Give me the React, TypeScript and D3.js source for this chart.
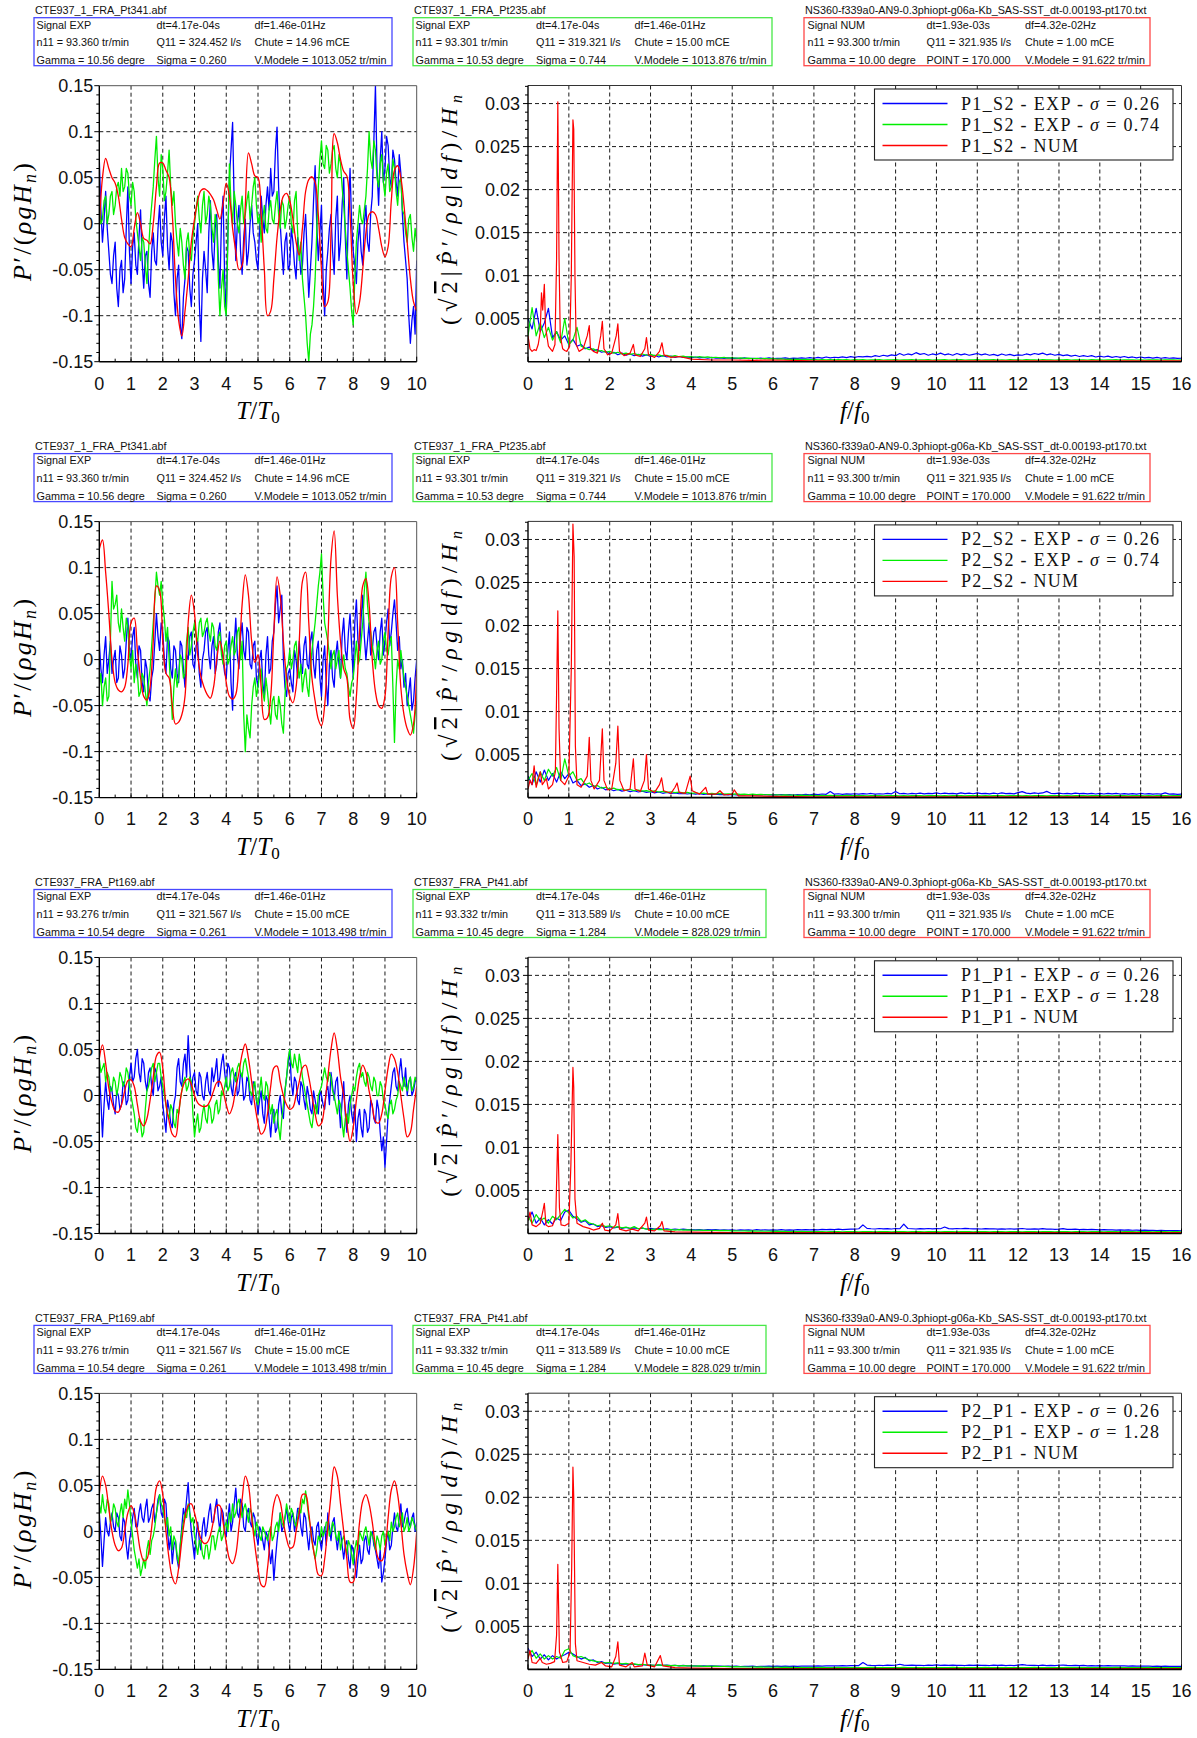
import React from "react";
import * as d3 from "d3";

// ---------- header boxes (text only) ----------
const expA12 = {
  file: "CTE937_1_FRA_Pt341.abf",
  lines: [
    ["Signal EXP", "dt=4.17e-04s", "df=1.46e-01Hz"],
    ["n11 = 93.360 tr/min", "Q11 = 324.452 l/s", "Chute = 14.96 mCE"],
    ["Gamma = 10.56 degre", "Sigma = 0.260", "V.Modele = 1013.052 tr/min"],
  ],
};
const expB12 = {
  file: "CTE937_1_FRA_Pt235.abf",
  lines: [
    ["Signal EXP", "dt=4.17e-04s", "df=1.46e-01Hz"],
    ["n11 = 93.301 tr/min", "Q11 = 319.321 l/s", "Chute = 15.00 mCE"],
    ["Gamma = 10.53 degre", "Sigma = 0.744", "V.Modele = 1013.876 tr/min"],
  ],
};
const expA34 = {
  file: "CTE937_FRA_Pt169.abf",
  lines: [
    ["Signal EXP", "dt=4.17e-04s", "df=1.46e-01Hz"],
    ["n11 = 93.276 tr/min", "Q11 = 321.567 l/s", "Chute = 15.00 mCE"],
    ["Gamma = 10.54 degre", "Sigma = 0.261", "V.Modele = 1013.498 tr/min"],
  ],
};
const expB34 = {
  file: "CTE937_FRA_Pt41.abf",
  lines: [
    ["Signal EXP", "dt=4.17e-04s", "df=1.46e-01Hz"],
    ["n11 = 93.332 tr/min", "Q11 = 313.589 l/s", "Chute = 10.00 mCE"],
    ["Gamma = 10.45 degre", "Sigma = 1.284", "V.Modele = 828.029 tr/min"],
  ],
};
const numBox = {
  file: "NS360-f339a0-AN9-0.3phiopt-g06a-Kb_SAS-SST_dt-0.00193-pt170.txt",
  lines: [
    ["Signal NUM", "dt=1.93e-03s", "df=4.32e-02Hz"],
    ["n11 = 93.300 tr/min", "Q11 = 321.935 l/s", "Chute = 1.00 mCE"],
    ["Gamma = 10.00 degre", "POINT = 170.000", "V.Modele = 91.622 tr/min"],
  ],
};

// legend entries
const legendProbe = ["P1_S2", "P2_S2", "P1_P1", "P2_P1"];
const legendSigmaA = ["0.26", "0.26", "0.26", "0.26"];
const legendSigmaB = ["0.74", "0.74", "1.28", "1.28"];

// ---------- time signals, P'/(rho g Hn) in thousandths, evenly spread over T/T0 = 0..10 ----------
// EXP signals: every 0.05 T/T0
const tsBlue1 = [70,15,-20,5,35,-5,-30,-55,-65,-35,-20,-70,-90,-50,-40,-75,-60,-5,40,-30, -65,-25,-10,-45,-55,-15,15,-40,-70,-35,-30,-65,-80,-30,-10,-40,-45,-5,20,-20, -35,5,30,-25,-50,-10,-20,-75,-100,-60,-45,-110,-125,-80,-60,-25,-30,-70,-90,-55, -40,-20,0,-85,-128,-60,-30,-50,-75,-10,25,-30,-50,-5,10,-40,-70,5,30,-60, -100,-10,50,80,110,20,-40,0,20,-30,-55,-15,5,-45,-30,0,20,-10,-20,-40, -50,-5,30,5,-10,20,40,15,60,30,35,80,105,40,0,-30,-55,-20,-10,-50, -45,-5,-20,-45,-60,-15,-30,-55,-45,-10,10,-35,-80,-50,-20,25,63,0,-40,-10, 20,-60,-100,-50,-30,-5,10,-30,-55,5,30,-40,-20,20,50,-15,-60,15,60,0, -30,-45,-65,-20,0,-30,-45,0,20,-20,-30,10,30,90,150,60,20,70,100,45, 60,95,85,50,40,80,70,45,30,75,55,10,-20,-40,-60,-100,-130,-105,-90,-120, -40];
const tsGreen1 = [20,0,5,25,30,0,10,30,35,10,20,40,45,30,60,35,40,60,55,30, 20,45,35,5,-10,-25,-40,-15,-20,-45,-65,-30,0,20,40,70,95,50,30,75, 60,25,35,55,80,40,20,35,0,-20,-35,-5,-20,-45,-60,-20,-10,-35,-40,-15, 0,15,30,5,-10,20,35,0,10,30,20,-5,-20,10,0,-60,-100,-70,-50,-90, -100,-20,65,20,0,35,20,0,-10,15,30,0,10,25,35,5,20,40,50,20, 0,10,-20,5,20,-5,-10,15,25,5,0,20,35,10,-5,25,20,-5,5,20, 30,0,-10,25,35,-10,-40,-20,-60,-80,-100,-130,-150,-120,-110,-90,-60,-10,40,70, 90,65,60,85,80,55,65,80,85,60,50,75,65,40,20,-5,-30,-50,-70,-95, -110,-60,-20,0,20,5,0,15,30,60,100,70,60,90,80,50,40,65,75,45, 30,55,65,35,40,70,60,35,20,45,50,15,10,-10,-20,5,10,-15,-30,-5, -20];
const tsBlue2 = [20,-10,-25,5,25,-15,0,20,-15,0,10,-25,-20,15,5,-20,-10,20,45,10, 0,25,35,-5,-20,15,10,-25,-35,0,-10,-40,-45,-20,-10,20,50,25,10,40, 30,0,-15,25,20,-10,-20,15,10,-15,-25,20,15,-10,-30,5,0,25,30,-5, -10,15,20,-15,-30,0,10,30,35,5,-10,15,25,-15,-5,30,40,10,0,-15, -20,10,30,-25,-55,15,45,5,-10,25,40,10,0,35,30,-5,-10,15,20,-20, -30,0,10,-25,-40,5,25,-15,-10,20,30,60,80,40,55,70,0,-30,-40,-15, -10,-25,-35,10,0,-20,20,-5,-15,15,25,-5,-10,20,30,-5,-20,10,20,-20, -40,0,15,-25,-50,-5,10,-20,-30,5,20,-5,-20,25,45,10,0,30,50,15, -20,40,65,20,10,45,70,25,0,20,40,5,10,30,35,15,0,30,45,5, 20,40,55,15,30,50,65,40,10,25,-10,0,-30,-15,-50,-35,-20,-55,-45,-20, 0];
const tsGreen2 = [-30,-15,-50,-30,-20,-45,-40,20,85,55,60,70,40,30,55,35,20,45,35,5, -10,10,-25,-5,-15,-40,-35,-15,-20,-35,-50,-25,-10,15,40,65,95,80,70,85, 60,45,20,35,0,-30,-65,-30,-10,-30,-20,5,0,-20,-15,20,35,5,15,30, 40,25,20,40,45,25,30,40,45,30,20,40,35,15,10,25,30,5,-5,15, 20,-5,0,15,25,5,10,30,35,0,20,-60,-100,-60,-75,-85,-50,-30,-20,-40, -30,-15,-10,-35,-45,-20,-35,-55,-70,-45,-40,-60,-65,-40,-50,-70,-80,-40,-10,-5, 10,-10,0,15,20,-5,-20,-5,-35,-20,-10,-30,-40,-10,10,25,40,60,80,95, 115,70,40,30,20,5,-10,5,10,-10,0,10,-20,-5,5,-10,-15,-30,-40,-25, -20,0,20,-5,0,20,40,75,95,60,40,30,15,5,-10,10,20,-5,0,20, 30,10,5,20,25,-30,-90,-30,0,-10,10,-5,-20,-30,-40,-50,-60,-70,-80,-60, -45];
const tsBlue3 = [30,-5,-45,-10,15,-5,-15,10,5,-10,-20,5,0,-15,-10,15,10,-10,-5,20, 35,15,20,40,50,25,15,40,35,15,5,25,30,10,0,30,25,5,10,20, -10,-25,-40,-5,-15,-30,-35,-10,0,30,40,15,10,35,45,20,65,30,5,20, 25,5,0,25,20,0,-5,15,25,5,0,30,15,25,40,10,20,35,45,25, 10,35,30,10,0,20,25,0,5,25,20,-5,0,20,15,-5,-10,15,10,-5, -20,-5,5,-20,-30,0,-5,-25,-45,-20,-15,-40,-35,-10,0,-20,-25,5,20,35, 50,15,0,20,15,-5,-10,15,10,-5,-15,10,0,-15,-20,5,-5,-15,-20,5, 0,-10,-15,5,10,-10,25,10,-5,15,20,-10,-35,-5,15,-20,-40,-10,0,-20, -30,-10,-50,-25,-15,-35,-45,-15,-20,-40,-35,-5,-10,-25,-30,-5,-15,-40,-60,-45, -78,-50,-20,-5,10,25,30,10,5,25,40,20,10,30,0,15,20,0,5,15, 20];
const tsGreen3 = [40,25,30,35,15,25,20,5,5,20,15,0,10,25,20,10,15,30,25,10, 0,-10,-20,-35,-40,-25,-30,-45,-40,-15,5,10,20,30,35,15,25,35,35,20, 10,0,-10,-20,-25,-10,-15,-30,-35,-15,-20,-5,5,15,20,5,10,20,15,-20, -45,-30,-20,-40,-35,-20,-10,-25,-30,-10,-15,-30,-25,-10,-5,-20,-15,5,0,10, 20,5,10,25,30,20,15,30,35,25,20,35,40,30,20,5,0,10,15,-5, -10,5,20,0,-5,15,10,-10,-20,-10,-30,-20,-15,-35,-48,-25,-10,5,20,40, 50,35,30,45,35,25,45,35,20,10,0,-10,-20,-30,-35,-20,-10,-20,0,5, 10,20,30,20,15,25,20,5,0,-10,-20,-5,-10,-30,-45,-25,-20,-30,-10,0, 10,5,20,30,35,20,25,15,10,25,20,10,5,20,15,0,0,15,10,-5, -10,-20,-25,-10,-5,-20,-15,-5,0,15,10,5,20,10,5,15,20,5,10,20, 15];
const tsBlue4 = [20,-5,-38,-10,15,0,-5,10,20,5,0,20,15,-5,-10,15,10,-15,-30,-10, 0,15,25,5,5,20,30,15,10,25,35,10,15,25,30,10,20,35,40,20, 15,35,30,0,-20,-5,-35,-15,-10,-30,-40,-15,5,25,15,35,53,20,0,-15, -30,-5,10,-10,-20,5,15,-5,5,20,30,10,10,25,35,15,0,25,20,0, -5,15,30,0,10,30,47,20,15,35,30,5,0,20,25,10,5,20,15,-5, -15,5,0,-10,-20,0,-5,-20,-35,-20,-53,-30,-10,5,20,0,5,15,25,10, 0,15,20,0,10,25,25,5,-5,20,15,-5,-20,0,5,-10,-15,5,10,-10, -20,-5,5,-15,20,5,-10,10,15,-5,-20,-5,0,-15,-30,-15,-10,-30,-40,-15, -20,-35,-50,-30,-15,-35,-30,-10,-5,-20,-25,-5,0,-15,-20,-30,-40,-20,-55,-45, -30,-10,0,-20,-15,5,20,5,0,15,30,5,10,20,25,10,5,15,20,0, 10];
const tsGreen4 = [30,20,40,25,20,35,30,10,15,30,25,10,5,20,30,15,35,25,45,30, 10,-5,-20,-30,-40,-30,-48,-40,-30,-40,-20,-10,-25,-10,-5,5,20,30,40,30, 25,15,5,15,-5,5,-20,-5,-10,-25,-35,-15,0,10,20,15,30,20,10,15, -5,-15,-25,-10,-10,-25,-30,-15,-15,-30,-20,-5,-5,-20,-10,0,5,-10,-5,5, 10,0,20,10,30,15,20,30,35,25,15,25,30,20,10,25,20,5,-5,10, 5,-5,-10,5,0,-5,-10,0,5,-10,-5,5,10,0,20,10,5,15,30,20, 10,25,20,10,5,15,25,20,35,30,44,30,15,5,-10,-20,-30,-20,-5,-10, 5,-5,0,10,10,-5,0,10,5,-5,-10,0,-20,-10,-5,-15,-25,-10,-15,-25, -35,-20,-10,-20,0,-5,-10,0,5,-5,-15,0,-5,-10,-20,-5,-10,-20,-5,0, -15,-5,0,-10,10,0,5,15,20,5,10,20,0,5,15,0,5,15,10,5, 0];

// NUM signals: every 0.1 T/T0
const tsRed1 = [-4,50,71,60,50,44,30,5,-15,-22, -25,-5,12,0,-16,-18,-22,0,40,66, 66,58,50,10,-60,-105,-122,-95,-60,-20, 5,25,36,38,36,32,26,15,5,22, 44,30,-5,-30,-50,-45,20,77,65,52, 50,10,-50,-100,-95,-60,-15,15,30,33, 25,5,-20,-34,-5,35,48,51,45,10, -50,-90,-85,-10,98,88,70,57,52,10, -65,-98,-85,-50,-10,10,13,10,-5,-25, -36,-25,25,58,63,50,20,-20,-60,-85, -95];
const tsRed2 = [120,130,95,50,0,-25,-33,-35,-30,-5, 40,45,10,-20,-40,-44,-30,20,80,75, 20,-15,-20,-50,-70,-68,-60,-40,40,70, 50,5,-18,-30,-38,-42,-30,0,20,5, -25,-40,-43,-38,0,60,92,70,20,-3, 5,-30,-65,-63,-40,30,90,70,20,-20, -40,-47,-30,20,85,95,40,-20,-45,-65, -72,-50,20,110,140,70,20,-10,-20,-65, -75,-40,30,80,88,60,0,-35,-50,-53, -40,30,90,100,40,-30,-60,-75,-82,-70, -10];
const tsRed3 = [40,55,35,8,-8,-17,-18,-10,5,16, 17,10,-10,-28,-33,-25,-5,20,43,47, 30,-10,-28,-42,-45,-20,5,15,18,12, 0,-8,-11,-12,-11,-5,5,14,15,5, -10,-20,-12,8,25,45,56,40,15,-10, -30,-42,-38,-20,10,30,32,15,0,-10, -15,-13,0,15,30,33,20,0,-20,-33, -30,-10,20,50,68,50,20,0,-30,-50, -35,-5,20,33,25,5,-12,-28,-30,-20, 5,30,45,40,25,0,-25,-45,-40,-15, 10];
const tsRed4 = [40,60,50,25,0,-15,-21,-18,0,20, 28,20,0,-22,-32,-30,-10,20,48,55, 40,0,-30,-50,-57,-40,-10,15,28,30, 20,5,-8,-13,-12,-4,12,28,28,10, -12,-30,-35,-25,5,35,60,50,15,-15, -40,-58,-60,-40,0,30,40,32,10,-8, -18,-17,0,20,40,40,20,-10,-30,-47, -48,-30,5,40,70,60,30,0,-30,-55, -55,-30,10,33,40,30,10,-15,-30,-32, -20,15,45,55,40,10,-25,-45,-58,-40, 0];

// ---------- spectra, amplitude in 1e-5, every 0.1 f/f0 (EXP) ----------
const spec1Blue = [500,380,620,350,450,620,280,350,250,300, 200,260,180,200,150,170,130,140,110,120, 90,110,80,100,75,90,70,85,65,80, 60,75,55,70,55,65,50,60,50,55, 45,55,45,50,40,50,40,45,38,45, 38,42,35,45,35,40,35,42,35,45, 35,40,38,45,35,42,38,45,40,48, 40,50,42,55,45,52,48,55,48,58, 50,60,55,62,55,70,60,75,65,80, 70,95,75,90,80,105,85,95,75,90, 80,100,80,90,75,95,80,90,75,85, 95,80,90,75,85,70,90,75,85,70, 80,75,90,80,95,85,100,80,90,75, 85,70,80,65,75,60,70,60,70,55, 65,55,65,50,60,50,60,48,55,45, 55,45,50,42,50,40,48,40,45,38, 40];
const spec1Green = [300,630,300,450,280,400,250,350,220,500, 200,250,400,180,160,140,150,120,130,110, 120,100,110,90,100,85,95,80,90,75, 85,70,80,65,75,60,70,58,65,55, 60,52,58,50,55,48,52,45,50,42, 48,40,45,38,42,36,40,34,38,32, 35,30,33,28,30,27,29,25,27,24, 26,22,25,21,24,22,25,21,23,20, 23,21,24,20,22,21,23,20,22,21, 23,20,22,21,24,20,22,21,23,20, 22,21,23,20,22,21,24,20,22,21, 23,20,22,21,23,20,22,20,23,21, 22,20,23,21,22,20,23,21,22,20, 22,21,23,20,22,21,22,20,23,21, 22,20,22,21,23,20,22,21,22,20, 22,20,22,21,22,20,22,21,22,20, 21];
const spec2Blue = [250,150,300,180,320,200,280,180,300,220, 280,170,200,140,160,120,140,100,120,90, 100,80,95,75,85,70,80,65,75,60, 70,55,65,50,60,48,55,45,50,42, 48,40,45,38,42,36,40,34,38,32, 36,30,35,32,36,30,34,31,36,30, 35,32,36,31,35,30,36,32,38,33, 40,35,42,38,70,40,45,38,44,40, 45,40,46,42,48,40,45,42,50,44, 70,45,48,42,50,45,52,44,50,46, 55,45,52,46,50,44,55,46,52,45, 54,46,50,44,52,45,55,46,50,44, 58,70,52,46,55,48,54,72,50,46, 52,45,50,44,52,46,50,43,48,42, 48,42,50,44,48,42,47,41,46,40, 48,42,46,40,45,40,55,40,44,38, 40];
const spec2Green = [200,280,150,300,200,330,250,350,200,450, 250,300,200,220,150,170,130,140,110,120, 100,110,90,100,85,95,80,88,75,82, 70,78,65,72,60,68,58,64,55,60, 50,56,48,52,45,50,43,48,42,45, 40,43,38,41,36,40,34,38,33,36, 30,33,29,31,28,30,27,28,26,27, 25,24,26,23,25,22,24,23,25,22, 24,22,23,21,24,22,23,21,24,22, 23,21,22,21,23,22,24,21,23,22, 23,21,22,21,23,22,24,21,23,22, 23,21,22,21,23,22,24,21,23,22, 23,21,22,21,23,22,24,21,23,22, 23,21,22,21,23,22,24,21,23,22, 23,21,22,21,23,22,24,21,23,22, 23,21,22,21,23,22,24,21,23,22, 22];
const spec3Blue = [150,250,120,180,100,160,110,180,150,250, 270,200,170,130,150,100,110,80,90,70, 80,65,75,60,70,58,66,55,62,52, 60,50,56,48,54,46,52,45,50,44, 45,42,46,40,44,41,45,40,43,40, 42,38,43,39,42,38,44,40,42,39, 42,40,44,39,43,40,45,41,44,42, 46,43,47,44,48,45,50,46,48,50, 52,55,100,60,55,52,58,54,56,52, 58,55,110,58,55,52,56,53,58,54, 56,55,75,57,54,58,55,60,56,54, 55,52,56,53,55,51,54,52,55,50, 54,58,52,50,53,51,56,50,52,49, 50,56,48,47,50,46,48,45,47,44, 42,45,41,43,40,42,39,41,38,40, 37,39,36,38,35,37,34,35,33,34, 30];
const spec3Green = [200,120,220,150,180,120,200,160,220,280, 240,180,200,140,160,120,110,90,100,80, 90,70,80,65,75,60,80,55,65,50, 45,52,44,48,42,46,40,44,40,42, 40,38,40,36,38,35,37,34,36,33, 30,32,29,31,28,30,27,29,26,28, 25,27,24,26,23,25,22,24,22,23, 22,21,23,20,22,21,23,20,22,21, 22,20,22,21,23,20,22,21,22,20, 22,21,23,20,22,21,22,20,22,21, 22,20,22,21,23,20,22,21,22,20, 22,21,23,20,22,21,22,20,22,21, 22,20,22,21,23,20,22,21,22,20, 22,21,23,20,22,21,22,20,22,21, 22,20,22,21,23,20,22,21,22,20, 22,21,23,20,22,21,22,20,22,21, 20];
const spec4Blue = [250,150,200,120,170,110,160,120,150,170, 200,180,150,120,140,100,110,80,90,70, 75,62,70,58,65,55,60,52,56,50, 50,48,52,46,50,44,48,42,46,41, 40,42,39,41,38,40,37,39,36,38, 35,37,34,36,35,37,34,36,35,38, 35,37,36,38,35,37,36,39,37,38, 38,40,39,41,40,42,41,43,42,44, 43,45,80,50,46,44,48,45,50,46, 48,60,50,47,49,46,48,45,50,46, 52,47,49,46,50,47,48,45,50,46, 49,46,48,45,50,46,49,45,48,44, 50,55,49,46,48,45,50,44,47,45, 48,50,46,44,47,43,46,42,45,42, 44,41,43,40,42,40,41,39,40,38, 39,37,38,36,38,36,37,35,36,35, 35];
const spec4Green = [150,220,130,180,120,160,120,150,130,220, 240,160,140,150,130,110,100,90,80,75, 80,70,75,65,70,60,65,56,60,52, 50,48,52,46,48,44,46,42,44,41, 40,38,40,36,38,35,37,34,36,33, 30,32,29,31,28,30,27,29,26,28, 25,27,24,26,23,25,22,24,22,23, 22,21,23,20,22,21,23,20,22,21, 22,20,22,21,23,20,22,21,22,20, 22,21,23,20,22,21,22,20,22,21, 22,20,22,21,23,20,22,21,22,20, 22,21,23,20,22,21,22,20,22,21, 22,20,22,21,23,20,22,21,22,20, 22,21,23,20,22,21,22,20,22,21, 22,20,22,21,23,20,22,21,22,20, 22,21,23,20,22,21,22,20,22,21, 20];

// NUM spectra: [f/f0, amplitude in 1e-5]
const specRed1: [number, number][] = [[0,300],[0.05,150],[0.1,120],[0.15,140],[0.2,130],[0.25,200],[0.3,350],[0.33,800],[0.36,600],[0.4,900],[0.43,400],[0.5,180],[0.55,150],[0.6,120],[0.66,200],[0.7,1200],[0.73,3020],[0.76,1200],[0.79,300],[0.85,150],[0.9,130],[0.95,120],[1.02,180],[1.06,1000],[1.1,2810],[1.12,2700],[1.15,1000],[1.18,200],[1.25,120],[1.35,150],[1.45,300],[1.5,420],[1.53,150],[1.6,120],[1.7,100],[1.78,300],[1.82,470],[1.86,150],[1.95,80],[2.05,100],[2.16,300],[2.2,440],[2.24,120],[2.35,70],[2.5,100],[2.58,200],[2.62,80],[2.75,60],[2.86,150],[2.9,280],[2.95,80],[3.1,50],[3.22,120],[3.28,220],[3.33,80],[3.5,50],[3.7,60],[4,30],[4.5,20],[5,20],[5.5,15],[6,20],[7,10],[8,10],[10,10],[16,10]];
const specRed2: [number, number][] = [[0,100],[0.05,200],[0.1,150],[0.15,370],[0.2,120],[0.3,300],[0.35,150],[0.45,220],[0.5,100],[0.6,150],[0.67,300],[0.7,1200],[0.73,2170],[0.76,800],[0.8,200],[0.9,150],[1.0,250],[1.06,1500],[1.1,3180],[1.13,2800],[1.16,600],[1.2,150],[1.3,120],[1.45,250],[1.5,700],[1.54,200],[1.62,100],[1.75,200],[1.82,800],[1.86,200],[1.95,90],[2.05,100],[2.15,400],[2.2,830],[2.25,200],[2.35,80],[2.5,100],[2.58,450],[2.62,100],[2.75,70],[2.85,200],[2.9,500],[2.95,100],[3.1,60],[3.22,150],[3.27,230],[3.32,80],[3.5,50],[3.6,120],[3.65,170],[3.7,60],[3.85,50],[3.97,250],[4.02,80],[4.2,40],[4.35,120],[4.4,40],[4.6,40],[4.7,80],[4.8,30],[5.0,40],[5.05,90],[5.15,20],[5.5,20],[6,15],[7,10],[8,10],[16,10]];
const specRed3: [number, number][] = [[0,150],[0.05,250],[0.1,100],[0.2,80],[0.3,120],[0.36,250],[0.4,350],[0.44,100],[0.5,80],[0.6,90],[0.68,200],[0.73,1150],[0.77,300],[0.81,100],[0.9,90],[1.0,120],[1.05,800],[1.1,1930],[1.12,1700],[1.15,400],[1.2,120],[1.35,80],[1.5,60],[1.6,40],[1.75,60],[1.82,120],[1.88,40],[2.0,30],[2.15,100],[2.2,230],[2.24,50],[2.4,30],[2.55,50],[2.7,30],[2.86,120],[2.9,190],[2.95,40],[3.1,30],[3.24,90],[3.28,140],[3.33,30],[3.6,20],[4,15],[5,10],[8,10],[16,10]];
const specRed4: [number, number][] = [[0,120],[0.05,220],[0.1,80],[0.2,70],[0.3,130],[0.35,80],[0.45,60],[0.55,70],[0.65,90],[0.7,400],[0.73,1220],[0.77,200],[0.85,80],[0.95,90],[1.03,200],[1.07,1200],[1.1,2350],[1.12,2000],[1.16,300],[1.2,100],[1.35,80],[1.5,60],[1.65,50],[1.8,80],[1.9,40],[2.05,30],[2.15,150],[2.2,320],[2.24,50],[2.4,30],[2.55,80],[2.6,30],[2.8,40],[2.86,190],[2.92,50],[3.1,30],[3.24,160],[3.3,40],[3.6,20],[4,15],[5,10],[16,10]];

const rows = [
  { boxes: [expA12, expB12, numBox], ts: [tsBlue1, tsGreen1, tsRed1], spec: [spec1Blue, spec1Green], red: specRed1 },
  { boxes: [expA12, expB12, numBox], ts: [tsBlue2, tsGreen2, tsRed2], spec: [spec2Blue, spec2Green], red: specRed2 },
  { boxes: [expA34, expB34, numBox], ts: [tsBlue3, tsGreen3, tsRed3], spec: [spec3Blue, spec3Green], red: specRed3 },
  { boxes: [expA34, expB34, numBox], ts: [tsBlue4, tsGreen4, tsRed4], spec: [spec4Blue, spec4Green], red: specRed4 },
];

// ---------- layout ----------
const W = 1197;
const H = 1738;
const ROW_H = 435.9;
const LP = { left: 99.3, right: 416.7, top: 85.7, bottom: 361.7 };
const RP = { left: 528, right: 1181.5, top: 85.5, bottom: 361.7 };
const BLUE = "#0000ff";
const GREEN = "#00ee00";
const RED = "#ff0000";
const SANS = "'Liberation Sans', Arial, sans-serif";
const SERIF = "'Liberation Serif', 'Times New Roman', serif";
const boxLayout = [
  { x: 34, cols: [36.5, 156.5, 254.5], color: "#4848ff" },
  { x: 413, cols: [415.5, 536, 634.5], color: "#48e848" },
  { x: 804, cols: [807.5, 926.5, 1025], color: "#ff4848" },
];

const fGrid = d3.range(161).map((i) => i / 10);

const xT = d3.scaleLinear().domain([0, 10]).range([LP.left, LP.right]);
const yP = d3.scaleLinear().domain([-0.15, 0.15]).range([LP.bottom, LP.top]);
const xF = d3.scaleLinear().domain([0, 16]).range([RP.left, RP.right]);
const yS = d3.scaleLinear().domain([0, 0.0321]).range([RP.bottom, RP.top]);

// samples are evenly spread over T/T0 = 0..10
const tsPath = (arr: number[], smooth = false) => {
  const n = arr.length - 1;
  const gen = d3
    .line<number>()
    .x((d, i) => xT((i * 10) / n))
    .y((d) => yP(d / 1000));
  if (smooth) gen.curve(d3.curveCatmullRom);
  return gen(arr) || "";
};
const specLine = d3.line<number>().x((d, i) => xF(fGrid[i])).y((d) => yS(d * 1e-5));
const numLine = d3
  .line<[number, number]>()
  .x((d) => xF(d[0]))
  .y((d) => yS(d[1] * 1e-5));

const fmt = (v: number) => String(+v.toFixed(4));

function InfoBox({ info, idx, right }: { info: typeof expA12; idx: number; right: number }) {
  const b = boxLayout[idx];
  return (
    <g fontFamily={SANS} fontSize={10.8} fill="#111">
      <text x={b.x + 1} y={14}>{info.file}</text>
      <rect x={b.x} y={17.7} width={right - b.x} height={48} fill="none" stroke={b.color} strokeWidth={1.3} />
      {info.lines.map((ln, r) =>
        ln.map((s, c) => (
          <text key={r + "-" + c} x={b.cols[c]} y={28.6 + r * 17.8}>
            {s}
          </text>
        ))
      )}
    </g>
  );
}

function Row({ r }: { r: number }) {
  const row = rows[r];
  const oy = r * ROW_H;
  const clipL = "clipL" + r;
  const clipR = "clipR" + r;
  const probe = legendProbe[r];
  const legY = [103.5, 124.5, 145.5];
  const legTexts = [
    ["EXP", legendSigmaA[r]],
    ["EXP", legendSigmaB[r]],
    ["NUM", ""],
  ];
  const legColors = [BLUE, GREEN, RED];
  return (
    <g transform={`translate(0,${oy})`}>
      <defs>
        <clipPath id={clipL}>
          <rect x={LP.left} y={LP.top} width={LP.right - LP.left} height={LP.bottom - LP.top} />
        </clipPath>
        <clipPath id={clipR}>
          <rect x={RP.left} y={RP.top} width={RP.right - RP.left} height={RP.bottom - RP.top} />
        </clipPath>
      </defs>

      {row.boxes.map((b, i) => (
        <InfoBox key={i} info={b} idx={i} right={i === 0 ? 392 : i === 1 ? (r < 2 ? 772 : 766) : 1150} />
      ))}

      {/* ---- left: time signals ---- */}
      {d3.range(1, 10).map((t) => (
        <line key={"gv" + t} x1={xT(t)} x2={xT(t)} y1={LP.top} y2={LP.bottom} stroke="#000" strokeWidth={0.9} strokeDasharray="4,3" />
      ))}
      {[-0.1, -0.05, 0, 0.05, 0.1].map((v) => (
        <line key={"gh" + v} x1={LP.left} x2={LP.right} y1={yP(v)} y2={yP(v)} stroke="#000" strokeWidth={0.9} strokeDasharray="4,3" />
      ))}
      <g clipPath={`url(#${clipL})`} fill="none" strokeWidth={1.3} strokeLinejoin="round">
        <path d={tsPath(row.ts[0])} stroke={BLUE} />
        <path d={tsPath(row.ts[1])} stroke={GREEN} />
        <path d={tsPath(row.ts[2], true)} stroke={RED} />
      </g>
      <line x1={LP.left} x2={LP.right} y1={LP.top} y2={LP.top} stroke="#555" />
      <line x1={LP.right} x2={LP.right} y1={LP.top} y2={LP.bottom} stroke="#555" />
      <line x1={LP.left} x2={LP.left} y1={LP.top} y2={LP.bottom} stroke="#000" strokeWidth={1.4} />
      <line x1={LP.left} x2={LP.right} y1={LP.bottom} y2={LP.bottom} stroke="#000" strokeWidth={1.4} />
      {d3.range(-15, 16).map((k) => (
        <line key={"ym" + k} x1={LP.left - (k % 5 === 0 ? 5 : 3)} x2={LP.left} y1={yP(k / 100)} y2={yP(k / 100)} stroke="#000" />
      ))}
      {d3.range(0, 21).map((k) => (
        <line key={"xm" + k} x1={xT(k / 2)} x2={xT(k / 2)} y1={LP.bottom} y2={LP.bottom - (k % 2 === 0 ? 5 : 3)} stroke="#000" />
      ))}
      <g fontFamily={SANS} fontSize={18} fill="#111">
        {yP.ticks(6).map((v) => (
          <text key={"yl" + v} x={LP.left - 6} y={yP(v)} dy="0.35em" textAnchor="end">
            {fmt(v)}
          </text>
        ))}
        {d3.range(0, 11).map((t) => (
          <text key={"xl" + t} x={xT(t)} y={389.5} textAnchor="middle">
            {t}
          </text>
        ))}
      </g>
      <text fontFamily={SERIF} fontSize={25} x={258} y={419} textAnchor="middle">
        <tspan fontStyle="italic">T</tspan>/<tspan fontStyle="italic">T</tspan>
        <tspan fontSize={17} dy={4}>0</tspan>
      </text>
      <text fontFamily={SERIF} fontSize={26} transform={`translate(31,222) rotate(-90)`} textAnchor="middle" textLength={118} lengthAdjust="spacing">
        <tspan fontStyle="italic">P</tspan>′/(<tspan fontStyle="italic">ρgH</tspan>
        <tspan fontStyle="italic" fontSize={18} dy={5}>n</tspan>
        <tspan dy={-5}>)</tspan>
      </text>

      {/* ---- right: spectra ---- */}
      {d3.range(1, 16).map((f) => (
        <line key={"sv" + f} x1={xF(f)} x2={xF(f)} y1={RP.top} y2={RP.bottom} stroke="#000" strokeWidth={0.9} strokeDasharray="4,3" />
      ))}
      {[0.005, 0.01, 0.015, 0.02, 0.025, 0.03].map((v) => (
        <line key={"sh" + v} x1={RP.left} x2={RP.right} y1={yS(v)} y2={yS(v)} stroke="#000" strokeWidth={0.9} strokeDasharray="4,3" />
      ))}
      <g clipPath={`url(#${clipR})`} fill="none" strokeWidth={1.2} strokeLinejoin="round">
        <path d={specLine(row.spec[0]) || ""} stroke={BLUE} />
        <path d={specLine(row.spec[1]) || ""} stroke={GREEN} />
        <path d={numLine(row.red) || ""} stroke={RED} />
      </g>
      <line x1={RP.left} x2={RP.right} y1={RP.top} y2={RP.top} stroke="#333" />
      <line x1={RP.right} x2={RP.right} y1={RP.top} y2={RP.bottom} stroke="#333" />
      <line x1={RP.left} x2={RP.left} y1={RP.top} y2={RP.bottom} stroke="#000" strokeWidth={1.4} />
      <line x1={RP.left} x2={RP.right} y1={RP.bottom} y2={RP.bottom} stroke="#000" strokeWidth={1.6} />
      {d3.range(1, 33).map((k) => (
        <line key={"sym" + k} x1={RP.left - (k % 5 === 0 ? 5 : 3)} x2={RP.left} y1={yS(k / 1000)} y2={yS(k / 1000)} stroke="#000" />
      ))}
      {d3.range(0, 33).map((k) => (
        <line key={"sxm" + k} x1={xF(k / 2)} x2={xF(k / 2)} y1={RP.bottom} y2={RP.bottom - (k % 2 === 0 ? 5 : 3)} stroke="#000" />
      ))}
      <g fontFamily={SANS} fontSize={18} fill="#111">
        {[0.005, 0.01, 0.015, 0.02, 0.025, 0.03].map((v) => (
          <text key={"syl" + v} x={RP.left - 8} y={yS(v)} dy="0.35em" textAnchor="end">
            {fmt(v)}
          </text>
        ))}
        {d3.range(0, 17).map((f) => (
          <text key={"sxl" + f} x={xF(f)} y={389.5} textAnchor="middle">
            {f}
          </text>
        ))}
      </g>
      <text fontFamily={SERIF} fontSize={25} x={(RP.left + RP.right) / 2} y={419} textAnchor="middle">
        <tspan fontStyle="italic">f</tspan>/<tspan fontStyle="italic">f</tspan>
        <tspan fontSize={17} dy={4}>0</tspan>
      </text>
      <text fontFamily={SERIF} fontSize={24} transform={`translate(457,210) rotate(-90)`} textAnchor="middle" textLength={230} lengthAdjust="spacing">
        (√<tspan textDecoration="overline">2</tspan>|<tspan fontStyle="italic">P̂</tspan>′/<tspan fontStyle="italic">ρg</tspan>|
        <tspan fontStyle="italic">df</tspan>)/<tspan fontStyle="italic">H</tspan>
        <tspan fontStyle="italic" fontSize={16} dy={5}>n</tspan>
      </text>

      {/* legend */}
      <rect x={874.5} y={89} width={298.5} height={71} fill="#fff" stroke="#222" strokeWidth={1.1} />
      {legTexts.map((lt, i) => (
        <g key={"lg" + i}>
          <line x1={882.5} x2={947.5} y1={legY[i]} y2={legY[i]} stroke={legColors[i]} strokeWidth={1.4} />
          <text
            x={961}
            y={legY[i] + 6}
            fontFamily={SERIF}
            fontSize={18}
            fill="#111"
            textLength={lt[1] ? 198 : 117}
            lengthAdjust="spacing"
          >
            {probe} - {lt[0]}
            {lt[1] ? (
              <>
                {" - "}
                <tspan fontStyle="italic">σ</tspan> = {lt[1]}
              </>
            ) : null}
          </text>
        </g>
      ))}
    </g>
  );
}

export default function App() {
  return (
    <svg
      width={W}
      height={H}
      viewBox={`0 0 ${W} ${H}`}
      style={{ position: "absolute", left: 0, top: 0, background: "#fff" }}
    >
      <rect width={W} height={H} fill="#fff" />
      {rows.map((_, r) => (
        <Row key={r} r={r} />
      ))}
    </svg>
  );
}
